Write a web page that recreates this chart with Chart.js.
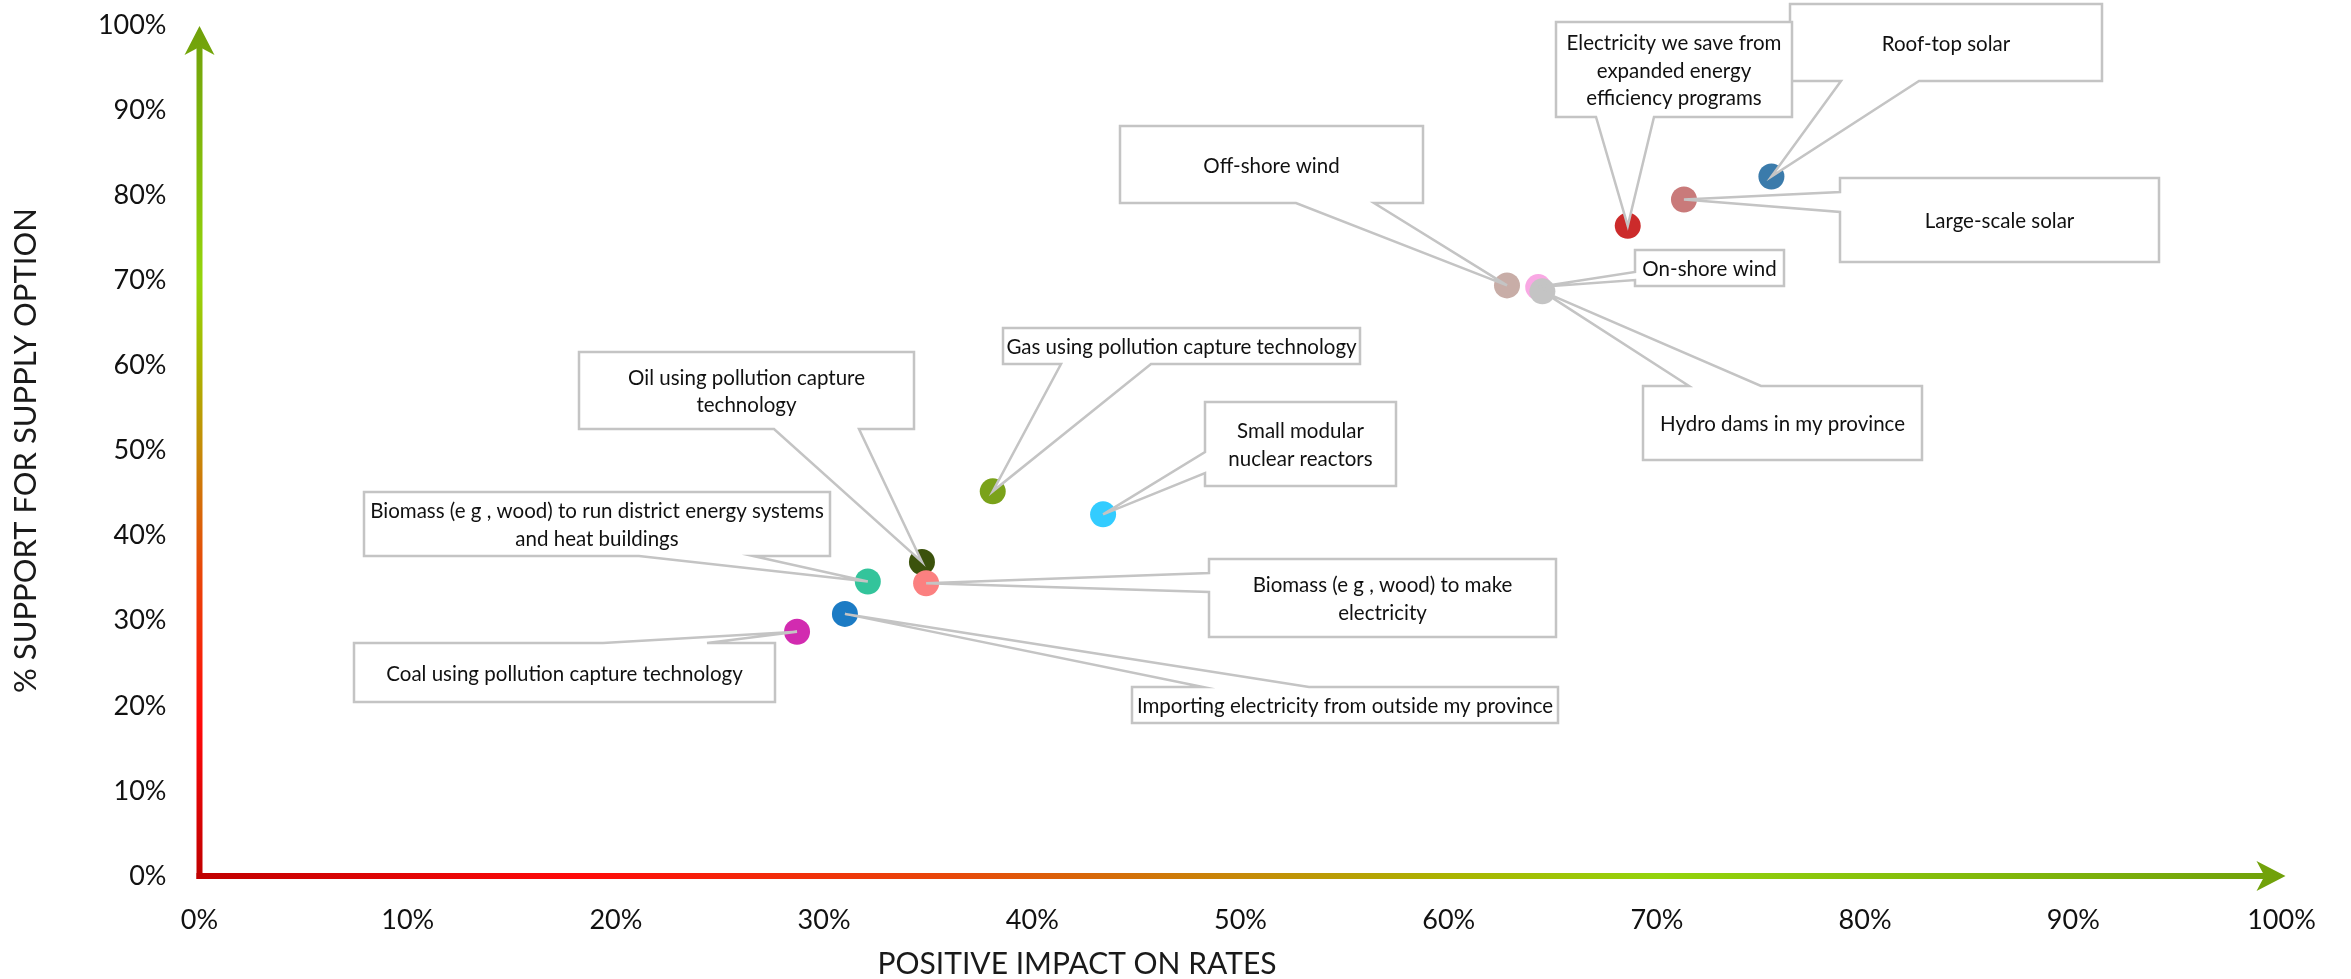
<!DOCTYPE html>
<html>
<head>
<meta charset="utf-8">
<script src="https://cdn.jsdelivr.net/npm/chart.js@4.4.1/dist/chart.umd.min.js"></script>
<style>
  html, body { margin: 0; padding: 0; background: #ffffff; }
  #wrap { width: 2351px; height: 979px; position: relative; }
</style>
</head>
<body>
<div id="wrap"><canvas id="chart"></canvas></div>
<script>
// Supply options (label lines as wrapped in their callouts)
const supplyOptions = [
  ['Roof-top solar'],
  ['Large-scale solar'],
  ['Electricity we save from', 'expanded energy', 'efficiency programs'],
  ['Off-shore wind'],
  ['On-shore wind'],
  ['Hydro dams in my province'],
  ['Gas using pollution capture technology'],
  ['Small modular', 'nuclear reactors'],
  ['Oil using pollution capture', 'technology'],
  ['Biomass (e g , wood) to run district energy systems', 'and heat buildings'],
  ['Biomass (e g , wood) to make', 'electricity'],
  ['Importing electricity from outside my province'],
  ['Coal using pollution capture technology']
];

// % seeing a positive impact on rates (x) and % support (y)
const impactOnRates = [75.5, 71.3, 68.6, 62.8, 64.3, 64.5, 38.1, 43.4, 34.7, 32.1, 34.9, 31.0, 28.7];
const supportPct    = [82.2, 79.5, 76.4, 69.4, 69.2, 68.7, 45.2, 42.5, 36.9, 34.6, 34.4, 30.8, 28.7];

const pointColors = [
  '#3b7bab', '#c97a7a', '#cc2b2b', '#c8ada7', '#f9a8e4', '#c4c4c4', '#7aa21a',
  '#33ccff', '#3b520c', '#33c49b', '#fb8080', '#1c7bc4', '#d22bb0'
];

// Axis tick values and their labels
const tickValues = [0, 10, 20, 30, 40, 50, 60, 70, 80, 90, 100];
const tickLabels = ['0%', '10%', '20%', '30%', '40%', '50%', '60%', '70%', '80%', '90%', '100%'];

// Callout boxes: [left, top, right, bottom] in canvas pixels, the edge the pointer leaves from,
// and where along that edge the pointer's base sits.
const calloutLayout = [
  { box: [1790, 4, 2102, 81],    side: 'bottom', at: [1841, 1919] },
  { box: [1840, 178, 2159, 262], side: 'left',   at: [192, 212] },
  { box: [1556, 22, 1792, 117],  side: 'bottom', at: [1596, 1654] },
  { box: [1120, 126, 1423, 203], side: 'bottom', at: [1296, 1374] },
  { box: [1635, 250, 1784, 286], side: 'left',   at: [272, 280] },
  { box: [1643, 386, 1922, 460], side: 'top',    at: [1689, 1761] },
  { box: [1003, 328, 1360, 364], side: 'bottom', at: [1061, 1151] },
  { box: [1205, 402, 1396, 486], side: 'left',   at: [452, 473] },
  { box: [579, 352, 914, 429],   side: 'bottom', at: [774, 859] },
  { box: [364, 492, 830, 556],   side: 'bottom', at: [639, 753] },
  { box: [1209, 559, 1556, 637], side: 'left',   at: [573, 592] },
  { box: [1132, 687, 1558, 723], side: 'top',    at: [1203, 1309] },
  { box: [354, 643, 775, 702],   side: 'top',    at: [603, 707] }
];

const FONT = 'Lato, "Open Sans", "DejaVu Sans", sans-serif';

// Gradient arrows for the two axes
const axisArrows = {
  id: 'axisArrows',
  beforeDatasetsDraw(chart) {
    const { ctx, scales: { x, y } } = chart;
    const x0 = x.getPixelForValue(0);
    const y0 = y.getPixelForValue(0);
    const xTip = x.getPixelForValue(100) + 4;
    const yTip = y.getPixelForValue(100) + 1;
    const lw = 6, head = 29, half = 15, notch = 21;
    const stops = [[0, '#c00000'], [0.18, '#ff0a0a'], [0.36, '#e8480a'], [0.5, '#c68a08'],
                   [0.6, '#aab400'], [0.7, '#94d40c'], [1, '#70a00a']];

    ctx.save();
    // vertical axis
    const gy = ctx.createLinearGradient(0, y0, 0, yTip);
    stops.forEach(s => gy.addColorStop(s[0], s[1]));
    ctx.fillStyle = gy;
    ctx.fillRect(x0 - lw / 2, yTip + notch - 2, lw, y0 + lw / 2 - (yTip + notch - 2));
    ctx.beginPath();
    ctx.moveTo(x0, yTip);
    ctx.lineTo(x0 + half, yTip + head);
    ctx.lineTo(x0, yTip + notch);
    ctx.lineTo(x0 - half, yTip + head);
    ctx.closePath();
    ctx.fill();

    // horizontal axis
    const gx = ctx.createLinearGradient(x0, 0, xTip, 0);
    stops.forEach(s => gx.addColorStop(s[0], s[1]));
    ctx.fillStyle = gx;
    ctx.fillRect(x0 - lw / 2, y0 - lw / 2, xTip - notch + 2 - (x0 - lw / 2), lw);
    ctx.beginPath();
    ctx.moveTo(xTip, y0);
    ctx.lineTo(xTip - head, y0 - half);
    ctx.lineTo(xTip - notch, y0);
    ctx.lineTo(xTip - head, y0 + half);
    ctx.closePath();
    ctx.fill();
    ctx.restore();
  }
};

// Callout boxes with a wedge pointing at each data point
const callouts = {
  id: 'callouts',
  afterDatasetsDraw(chart) {
    const { ctx } = chart;
    const meta = chart.getDatasetMeta(0);
    ctx.save();
    calloutLayout.forEach((c, i) => {
      const pt = meta.data[i];
      const tip = [pt.x, pt.y];
      const [l, t, r, b] = c.box;
      const [a0, a1] = c.at;
      ctx.beginPath();
      ctx.moveTo(l, t);
      if (c.side === 'top') { ctx.lineTo(a0, t); ctx.lineTo(tip[0], tip[1]); ctx.lineTo(a1, t); }
      ctx.lineTo(r, t);
      ctx.lineTo(r, b);
      if (c.side === 'bottom') { ctx.lineTo(a1, b); ctx.lineTo(tip[0], tip[1]); ctx.lineTo(a0, b); }
      ctx.lineTo(l, b);
      if (c.side === 'left') { ctx.lineTo(l, a1); ctx.lineTo(tip[0], tip[1]); ctx.lineTo(l, a0); }
      ctx.closePath();
      ctx.fillStyle = '#ffffff';
      ctx.fill();
      ctx.lineWidth = 2.5;
      ctx.strokeStyle = '#c4c4c4';
      ctx.lineJoin = 'miter';
      ctx.stroke();

      const lines = supplyOptions[i];
      const lh = 27.5;
      const cx = (l + r) / 2;
      const cy = (t + b) / 2 + 1.5;
      ctx.fillStyle = '#111111';
      ctx.font = '20.5px ' + FONT;
      ctx.textAlign = 'center';
      ctx.textBaseline = 'middle';
      lines.forEach((line, k) => {
        ctx.fillText(line, cx, cy + (k - (lines.length - 1) / 2) * lh);
      });
    });
    ctx.restore();
  }
};

// Horizontal axis title
const xTitle = {
  id: 'xTitle',
  afterDraw(chart) {
    const { ctx } = chart;
    ctx.save();
    ctx.fillStyle = '#1a1a1a';
    ctx.font = '30px ' + FONT;
    ctx.textAlign = 'center';
    ctx.textBaseline = 'middle';
    ctx.fillText('POSITIVE IMPACT ON RATES', 1077, 964);
    ctx.restore();
  }
};

const points = impactOnRates.map((v, i) => ({ x: v, y: supportPct[i] }));
const labelFor = v => tickLabels[tickValues.indexOf(v)] ?? '';

new Chart(document.getElementById('chart'), {
  type: 'scatter',
  data: {
    labels: supplyOptions.map(l => l.join(' ')),
    datasets: [{
      data: points,
      backgroundColor: pointColors,
      borderWidth: 0,
      pointRadius: 13,
      pointHoverRadius: 13
    }]
  },
  options: {
    responsive: true,
    maintainAspectRatio: false,
    animation: false,
    layout: { autoPadding: false, padding: { left: 0, right: 69.5, top: 25, bottom: 0 } },
    plugins: { legend: { display: false }, tooltip: { enabled: false } },
    scales: {
      x: {
        type: 'linear',
        min: 0, max: 100,
        afterBuildTicks: s => { s.ticks = tickValues.map(v => ({ value: v })); },
        afterFit: s => { s.height = 103; s.paddingLeft = 0; s.paddingRight = 0; },
        grid: { display: false, drawTicks: false },
        border: { display: false },
        ticks: {
          callback: labelFor,
          padding: 28,
          maxRotation: 0,
          autoSkip: false,
          color: '#111111',
          font: { family: FONT, size: 27 }
        }
      },
      y: {
        type: 'linear',
        min: 0, max: 100,
        afterBuildTicks: s => { s.ticks = tickValues.map(v => ({ value: v })); },
        afterFit: s => { s.width = 199.5; s.paddingTop = 0; s.paddingBottom = 0; },
        grid: { display: false, drawTicks: false },
        border: { display: false },
        ticks: {
          callback: labelFor,
          padding: 33,
          autoSkip: false,
          color: '#111111',
          font: { family: FONT, size: 27 }
        },
        title: {
          display: true,
          text: '% SUPPORT FOR SUPPLY OPTION',
          color: '#1a1a1a',
          font: { family: FONT, size: 31 },
          padding: { top: 7, bottom: 0 }
        }
      }
    }
  },
  plugins: [axisArrows, callouts, xTitle]
});
</script>
</body>
</html>
